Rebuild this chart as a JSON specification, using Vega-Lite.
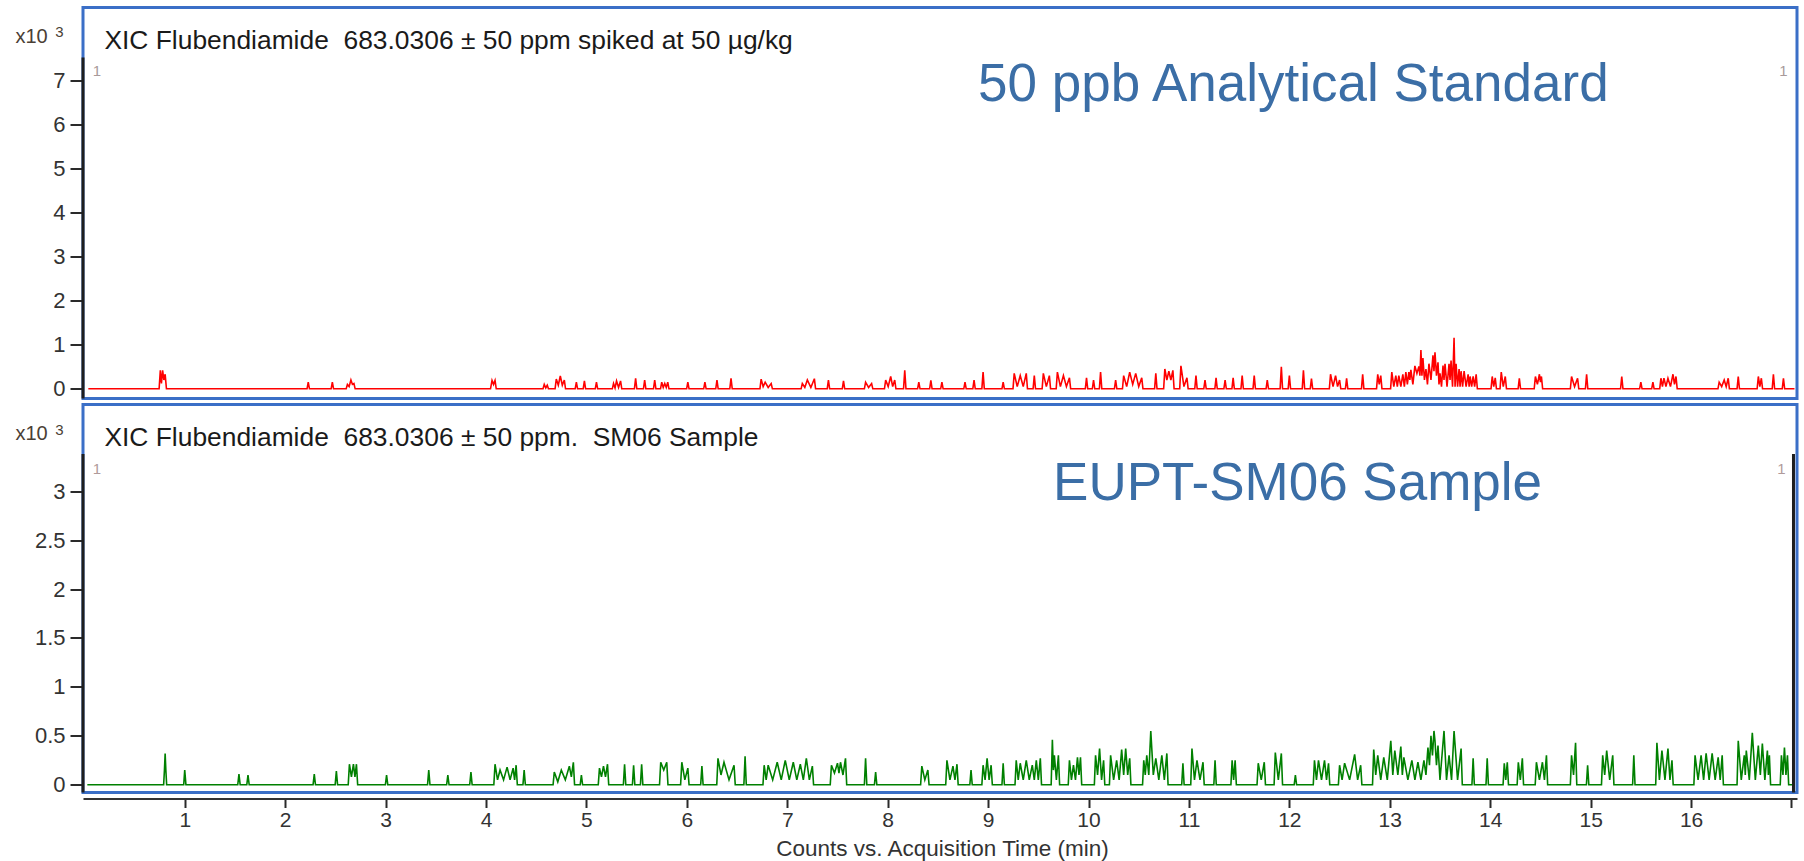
{
  "$schema": "https://vega.github.io/schema/vega-lite/v6.json",
  "background": "white",
  "padding": {"left": 13, "top": 5.5, "right": 5, "bottom": 0},
  "spacing": 6,
  "bounds": "flush",
  "config": {
    "view": {"stroke": "#3b6fc7", "strokeWidth": 3, "fill": "white"},
    "font": "Liberation Sans",
    "text": {"font": "Liberation Sans"}
  },
  "datasets": {
    "standard": [
      {"t":0.04,"v":0},
      {"t":0.745,"v":0},{"t":0.757,"v":0.42},{"t":0.768,"v":0.12},{"t":0.78,"v":0.42},{"t":0.792,"v":0.2},{"t":0.805,"v":0.33},{"t":0.818,"v":0},
      {"t":2.218,"v":0},{"t":2.23,"v":0.15},{"t":2.242,"v":0},
      {"t":2.458,"v":0},{"t":2.47,"v":0.15},{"t":2.482,"v":0},
      {"t":2.608,"v":0},{"t":2.62,"v":0.1},{"t":2.637,"v":0.05},{"t":2.655,"v":0.2},{"t":2.67,"v":0.1},{"t":2.685,"v":0.12},{"t":2.697,"v":0},
      {"t":4.045,"v":0},{"t":4.06,"v":0.19},{"t":4.075,"v":0.1},{"t":4.09,"v":0.19},{"t":4.102,"v":0},
      {"t":4.568,"v":0},{"t":4.58,"v":0.1},{"t":4.595,"v":0.02},{"t":4.61,"v":0.08},{"t":4.622,"v":0},
      {"t":4.688,"v":0},{"t":4.7,"v":0.22},{"t":4.72,"v":0.08},{"t":4.74,"v":0.29},{"t":4.76,"v":0.08},{"t":4.78,"v":0.2},{"t":4.792,"v":0},
      {"t":4.888,"v":0},{"t":4.9,"v":0.15},{"t":4.912,"v":0},
      {"t":4.968,"v":0},{"t":4.98,"v":0.18},{"t":4.992,"v":0},
      {"t":5.088,"v":0},{"t":5.1,"v":0.15},{"t":5.112,"v":0},
      {"t":5.258,"v":0},{"t":5.27,"v":0.12},{"t":5.285,"v":0.02},{"t":5.3,"v":0.18},{"t":5.32,"v":0.03},{"t":5.34,"v":0.18},{"t":5.352,"v":0},
      {"t":5.478,"v":0},{"t":5.49,"v":0.24},{"t":5.502,"v":0},
      {"t":5.568,"v":0},{"t":5.58,"v":0.2},{"t":5.592,"v":0},
      {"t":5.668,"v":0},{"t":5.68,"v":0.2},{"t":5.692,"v":0},
      {"t":5.738,"v":0},{"t":5.75,"v":0.15},{"t":5.765,"v":0.03},{"t":5.78,"v":0.12},{"t":5.795,"v":0.03},{"t":5.81,"v":0.15},{"t":5.822,"v":0},
      {"t":5.998,"v":0},{"t":6.01,"v":0.15},{"t":6.022,"v":0},
      {"t":6.168,"v":0},{"t":6.18,"v":0.15},{"t":6.192,"v":0},
      {"t":6.288,"v":0},{"t":6.3,"v":0.2},{"t":6.312,"v":0},
      {"t":6.428,"v":0},{"t":6.44,"v":0.24},{"t":6.452,"v":0},
      {"t":6.728,"v":0},{"t":6.74,"v":0.22},{"t":6.76,"v":0.05},{"t":6.78,"v":0.15},{"t":6.81,"v":0.03},{"t":6.84,"v":0.12},{"t":6.852,"v":0},
      {"t":7.138,"v":0},{"t":7.15,"v":0.12},{"t":7.175,"v":0.03},{"t":7.2,"v":0.2},{"t":7.235,"v":0.03},{"t":7.27,"v":0.23},{"t":7.282,"v":0},
      {"t":7.398,"v":0},{"t":7.41,"v":0.2},{"t":7.422,"v":0},
      {"t":7.548,"v":0},{"t":7.56,"v":0.18},{"t":7.572,"v":0},
      {"t":7.768,"v":0},{"t":7.78,"v":0.15},{"t":7.81,"v":0.03},{"t":7.84,"v":0.12},{"t":7.852,"v":0},
      {"t":7.968,"v":0},{"t":7.98,"v":0.2},{"t":8.005,"v":0.05},{"t":8.03,"v":0.28},{"t":8.05,"v":0.05},{"t":8.07,"v":0.2},{"t":8.082,"v":0},
      {"t":8.158,"v":0},{"t":8.17,"v":0.42},{"t":8.182,"v":0},
      {"t":8.298,"v":0},{"t":8.31,"v":0.15},{"t":8.322,"v":0},
      {"t":8.418,"v":0},{"t":8.43,"v":0.19},{"t":8.442,"v":0},
      {"t":8.528,"v":0},{"t":8.54,"v":0.15},{"t":8.552,"v":0},
      {"t":8.758,"v":0},{"t":8.77,"v":0.15},{"t":8.782,"v":0},
      {"t":8.848,"v":0},{"t":8.86,"v":0.2},{"t":8.872,"v":0},
      {"t":8.938,"v":0},{"t":8.95,"v":0.38},{"t":8.962,"v":0},
      {"t":9.138,"v":0},{"t":9.15,"v":0.15},{"t":9.162,"v":0},
      {"t":9.248,"v":0},{"t":9.26,"v":0.35},{"t":9.29,"v":0.05},{"t":9.32,"v":0.3},{"t":9.35,"v":0.05},{"t":9.38,"v":0.35},{"t":9.392,"v":0},
      {"t":9.448,"v":0},{"t":9.46,"v":0.3},{"t":9.472,"v":0},
      {"t":9.538,"v":0},{"t":9.55,"v":0.35},{"t":9.58,"v":0.05},{"t":9.61,"v":0.3},{"t":9.622,"v":0},
      {"t":9.678,"v":0},{"t":9.69,"v":0.38},{"t":9.72,"v":0.05},{"t":9.75,"v":0.3},{"t":9.78,"v":0.05},{"t":9.81,"v":0.25},{"t":9.822,"v":0},
      {"t":9.968,"v":0},{"t":9.98,"v":0.25},{"t":9.992,"v":0},
      {"t":10.038,"v":0},{"t":10.05,"v":0.2},{"t":10.062,"v":0},
      {"t":10.108,"v":0},{"t":10.12,"v":0.38},{"t":10.132,"v":0},
      {"t":10.258,"v":0},{"t":10.27,"v":0.2},{"t":10.282,"v":0},
      {"t":10.338,"v":0},{"t":10.35,"v":0.3},{"t":10.38,"v":0.05},{"t":10.41,"v":0.38},{"t":10.44,"v":0.1},{"t":10.47,"v":0.35},{"t":10.5,"v":0.05},{"t":10.53,"v":0.25},{"t":10.542,"v":0},
      {"t":10.658,"v":0},{"t":10.67,"v":0.35},{"t":10.682,"v":0},
      {"t":10.748,"v":0},{"t":10.76,"v":0.45},{"t":10.78,"v":0.2},{"t":10.8,"v":0.4},{"t":10.82,"v":0.2},{"t":10.84,"v":0.42},{"t":10.852,"v":0},
      {"t":10.908,"v":0},{"t":10.92,"v":0.52},{"t":10.95,"v":0.05},{"t":10.98,"v":0.25},{"t":10.992,"v":0},
      {"t":11.058,"v":0},{"t":11.07,"v":0.3},{"t":11.082,"v":0},
      {"t":11.148,"v":0},{"t":11.16,"v":0.2},{"t":11.172,"v":0},
      {"t":11.258,"v":0},{"t":11.27,"v":0.25},{"t":11.282,"v":0},
      {"t":11.348,"v":0},{"t":11.36,"v":0.2},{"t":11.372,"v":0},
      {"t":11.428,"v":0},{"t":11.44,"v":0.25},{"t":11.452,"v":0},
      {"t":11.518,"v":0},{"t":11.53,"v":0.3},{"t":11.542,"v":0},
      {"t":11.638,"v":0},{"t":11.65,"v":0.3},{"t":11.662,"v":0},
      {"t":11.768,"v":0},{"t":11.78,"v":0.2},{"t":11.792,"v":0},
      {"t":11.908,"v":0},{"t":11.92,"v":0.5},{"t":11.932,"v":0},
      {"t":11.988,"v":0},{"t":12.0,"v":0.3},{"t":12.012,"v":0},
      {"t":12.128,"v":0},{"t":12.14,"v":0.42},{"t":12.152,"v":0},
      {"t":12.208,"v":0},{"t":12.22,"v":0.23},{"t":12.232,"v":0},
      {"t":12.398,"v":0},{"t":12.41,"v":0.33},{"t":12.435,"v":0.05},{"t":12.46,"v":0.3},{"t":12.48,"v":0.05},{"t":12.5,"v":0.2},{"t":12.512,"v":0},
      {"t":12.558,"v":0},{"t":12.57,"v":0.24},{"t":12.582,"v":0},
      {"t":12.718,"v":0},{"t":12.73,"v":0.33},{"t":12.742,"v":0},
      {"t":12.868,"v":0},{"t":12.88,"v":0.33},{"t":12.895,"v":0.1},{"t":12.91,"v":0.3},{"t":12.922,"v":0},
      {"t":13.008,"v":0},{"t":13.02,"v":0.38},{"t":13.04,"v":0.05},{"t":13.06,"v":0.3},{"t":13.075,"v":0.05},{"t":13.09,"v":0.3},{"t":13.11,"v":0.05},{"t":13.13,"v":0.33},{"t":13.145,"v":0.05},{"t":13.16,"v":0.38},{"t":13.175,"v":0.1},{"t":13.19,"v":0.38},{"t":13.2,"v":0.2},{"t":13.21,"v":0.43},{"t":13.23,"v":0.1},{"t":13.25,"v":0.52},{"t":13.27,"v":0.35},{"t":13.29,"v":0.51},{"t":13.3,"v":0.3},{"t":13.31,"v":0.88},{"t":13.32,"v":0.3},{"t":13.33,"v":0.7},{"t":13.345,"v":0.2},{"t":13.36,"v":0.45},{"t":13.375,"v":0.1},{"t":13.39,"v":0.57},{"t":13.41,"v":0.2},{"t":13.43,"v":0.76},{"t":13.44,"v":0.4},{"t":13.45,"v":0.83},{"t":13.465,"v":0.3},{"t":13.48,"v":0.6},{"t":13.49,"v":0.1},{"t":13.5,"v":0.35},{"t":13.515,"v":0.05},{"t":13.53,"v":0.53},{"t":13.54,"v":0.2},{"t":13.55,"v":0.57},{"t":13.57,"v":0.05},{"t":13.59,"v":0.57},{"t":13.6,"v":0.2},{"t":13.61,"v":0.64},{"t":13.625,"v":0.05},{"t":13.64,"v":1.16},{"t":13.65,"v":0.05},{"t":13.66,"v":0.57},{"t":13.675,"v":0.05},{"t":13.69,"v":0.45},{"t":13.7,"v":0.05},{"t":13.71,"v":0.4},{"t":13.725,"v":0.05},{"t":13.74,"v":0.4},{"t":13.76,"v":0.05},{"t":13.78,"v":0.33},{"t":13.79,"v":0.05},{"t":13.8,"v":0.28},{"t":13.815,"v":0.05},{"t":13.83,"v":0.28},{"t":13.845,"v":0.05},{"t":13.86,"v":0.33},{"t":13.872,"v":0},
      {"t":14.008,"v":0},{"t":14.02,"v":0.28},{"t":14.035,"v":0.05},{"t":14.05,"v":0.25},{"t":14.062,"v":0},
      {"t":14.098,"v":0},{"t":14.11,"v":0.38},{"t":14.13,"v":0.05},{"t":14.15,"v":0.28},{"t":14.162,"v":0},
      {"t":14.278,"v":0},{"t":14.29,"v":0.24},{"t":14.302,"v":0},
      {"t":14.438,"v":0},{"t":14.45,"v":0.28},{"t":14.47,"v":0.1},{"t":14.49,"v":0.33},{"t":14.5,"v":0.15},{"t":14.51,"v":0.28},{"t":14.522,"v":0},
      {"t":14.798,"v":0},{"t":14.81,"v":0.28},{"t":14.84,"v":0.05},{"t":14.87,"v":0.24},{"t":14.882,"v":0},
      {"t":14.948,"v":0},{"t":14.96,"v":0.33},{"t":14.972,"v":0},
      {"t":15.298,"v":0},{"t":15.31,"v":0.28},{"t":15.322,"v":0},
      {"t":15.488,"v":0},{"t":15.5,"v":0.15},{"t":15.512,"v":0},
      {"t":15.608,"v":0},{"t":15.62,"v":0.15},{"t":15.632,"v":0},
      {"t":15.688,"v":0},{"t":15.7,"v":0.24},{"t":15.715,"v":0.05},{"t":15.73,"v":0.24},{"t":15.75,"v":0.05},{"t":15.77,"v":0.24},{"t":15.795,"v":0.05},{"t":15.82,"v":0.33},{"t":15.835,"v":0.1},{"t":15.85,"v":0.28},{"t":15.862,"v":0},
      {"t":16.268,"v":0},{"t":16.28,"v":0.15},{"t":16.305,"v":0.05},{"t":16.33,"v":0.2},{"t":16.35,"v":0.05},{"t":16.37,"v":0.24},{"t":16.382,"v":0},
      {"t":16.458,"v":0},{"t":16.47,"v":0.28},{"t":16.482,"v":0},
      {"t":16.658,"v":0},{"t":16.67,"v":0.28},{"t":16.685,"v":0.05},{"t":16.7,"v":0.24},{"t":16.712,"v":0},
      {"t":16.808,"v":0},{"t":16.82,"v":0.33},{"t":16.832,"v":0},
      {"t":16.908,"v":0},{"t":16.92,"v":0.24},{"t":16.932,"v":0},
      {"t":17.03,"v":0}
    ],
    "sample": [
      {"t":0.03,"v":0},
      {"t":0.79,"v":0},{"t":0.798,"v":0.15},{"t":0.805,"v":0.32},{"t":0.812,"v":0.15},{"t":0.82,"v":0},
      {"t":0.99,"v":0},{"t":1.0,"v":0.15},{"t":1.012,"v":0},
      {"t":1.528,"v":0},{"t":1.54,"v":0.11},{"t":1.552,"v":0},
      {"t":1.618,"v":0},{"t":1.63,"v":0.1},{"t":1.642,"v":0},
      {"t":2.278,"v":0},{"t":2.29,"v":0.11},{"t":2.302,"v":0},
      {"t":2.498,"v":0},{"t":2.51,"v":0.14},{"t":2.522,"v":0},
      {"t":2.628,"v":0},{"t":2.64,"v":0.21},{"t":2.66,"v":0.08},{"t":2.68,"v":0.21},{"t":2.695,"v":0.08},{"t":2.71,"v":0.21},{"t":2.722,"v":0},
      {"t":2.998,"v":0},{"t":3.01,"v":0.1},{"t":3.022,"v":0},
      {"t":3.418,"v":0},{"t":3.43,"v":0.15},{"t":3.442,"v":0},
      {"t":3.608,"v":0},{"t":3.62,"v":0.1},{"t":3.632,"v":0},
      {"t":3.838,"v":0},{"t":3.85,"v":0.13},{"t":3.862,"v":0},
      {"t":4.078,"v":0},{"t":4.09,"v":0.21},{"t":4.115,"v":0.05},{"t":4.14,"v":0.15},{"t":4.175,"v":0.05},{"t":4.21,"v":0.18},{"t":4.24,"v":0.05},{"t":4.27,"v":0.17},{"t":4.285,"v":0.05},{"t":4.3,"v":0.2},{"t":4.312,"v":0},
      {"t":4.368,"v":0},{"t":4.38,"v":0.15},{"t":4.392,"v":0},
      {"t":4.668,"v":0},{"t":4.68,"v":0.13},{"t":4.715,"v":0.03},{"t":4.75,"v":0.15},{"t":4.79,"v":0.05},{"t":4.83,"v":0.19},{"t":4.85,"v":0.08},{"t":4.87,"v":0.23},{"t":4.882,"v":0},
      {"t":4.938,"v":0},{"t":4.95,"v":0.1},{"t":4.962,"v":0},
      {"t":5.118,"v":0},{"t":5.13,"v":0.17},{"t":5.15,"v":0.08},{"t":5.17,"v":0.19},{"t":5.19,"v":0.08},{"t":5.21,"v":0.21},{"t":5.222,"v":0},
      {"t":5.368,"v":0},{"t":5.38,"v":0.21},{"t":5.392,"v":0},
      {"t":5.458,"v":0},{"t":5.47,"v":0.2},{"t":5.482,"v":0},
      {"t":5.538,"v":0},{"t":5.55,"v":0.21},{"t":5.562,"v":0},
      {"t":5.728,"v":0},{"t":5.74,"v":0.23},{"t":5.77,"v":0.15},{"t":5.8,"v":0.23},{"t":5.812,"v":0},
      {"t":5.938,"v":0},{"t":5.95,"v":0.23},{"t":5.98,"v":0.05},{"t":6.01,"v":0.17},{"t":6.022,"v":0},
      {"t":6.138,"v":0},{"t":6.15,"v":0.19},{"t":6.162,"v":0},
      {"t":6.298,"v":0},{"t":6.31,"v":0.27},{"t":6.34,"v":0.1},{"t":6.37,"v":0.23},{"t":6.42,"v":0.05},{"t":6.47,"v":0.2},{"t":6.482,"v":0},
      {"t":6.568,"v":0},{"t":6.58,"v":0.29},{"t":6.592,"v":0},
      {"t":6.758,"v":0},{"t":6.77,"v":0.2},{"t":6.79,"v":0.05},{"t":6.81,"v":0.2},{"t":6.855,"v":0.05},{"t":6.9,"v":0.23},{"t":6.94,"v":0.05},{"t":6.98,"v":0.25},{"t":7.02,"v":0.05},{"t":7.06,"v":0.23},{"t":7.095,"v":0.05},{"t":7.13,"v":0.21},{"t":7.16,"v":0.05},{"t":7.19,"v":0.27},{"t":7.22,"v":0.05},{"t":7.25,"v":0.19},{"t":7.262,"v":0},
      {"t":7.428,"v":0},{"t":7.44,"v":0.2},{"t":7.47,"v":0.12},{"t":7.5,"v":0.22},{"t":7.515,"v":0.12},{"t":7.53,"v":0.23},{"t":7.555,"v":0.1},{"t":7.58,"v":0.27},{"t":7.592,"v":0},
      {"t":7.768,"v":0},{"t":7.78,"v":0.27},{"t":7.792,"v":0},
      {"t":7.868,"v":0},{"t":7.88,"v":0.13},{"t":7.892,"v":0},
      {"t":8.328,"v":0},{"t":8.34,"v":0.19},{"t":8.37,"v":0.05},{"t":8.4,"v":0.15},{"t":8.412,"v":0},
      {"t":8.578,"v":0},{"t":8.59,"v":0.25},{"t":8.62,"v":0.05},{"t":8.65,"v":0.19},{"t":8.67,"v":0.05},{"t":8.69,"v":0.21},{"t":8.702,"v":0},
      {"t":8.818,"v":0},{"t":8.83,"v":0.15},{"t":8.842,"v":0},
      {"t":8.938,"v":0},{"t":8.95,"v":0.2},{"t":8.97,"v":0.05},{"t":8.99,"v":0.27},{"t":9.01,"v":0.05},{"t":9.03,"v":0.2},{"t":9.042,"v":0},
      {"t":9.138,"v":0},{"t":9.15,"v":0.22},{"t":9.162,"v":0},
      {"t":9.268,"v":0},{"t":9.28,"v":0.25},{"t":9.3,"v":0.05},{"t":9.32,"v":0.22},{"t":9.35,"v":0.05},{"t":9.38,"v":0.25},{"t":9.41,"v":0.05},{"t":9.44,"v":0.2},{"t":9.46,"v":0.05},{"t":9.48,"v":0.25},{"t":9.5,"v":0.05},{"t":9.52,"v":0.27},{"t":9.532,"v":0},
      {"t":9.628,"v":0},{"t":9.64,"v":0.46},{"t":9.65,"v":0.15},{"t":9.66,"v":0.3},{"t":9.68,"v":0.05},{"t":9.7,"v":0.3},{"t":9.712,"v":0},
      {"t":9.798,"v":0},{"t":9.81,"v":0.25},{"t":9.83,"v":0.05},{"t":9.85,"v":0.2},{"t":9.87,"v":0.05},{"t":9.89,"v":0.28},{"t":9.905,"v":0.1},{"t":9.92,"v":0.28},{"t":9.932,"v":0},
      {"t":10.058,"v":0},{"t":10.07,"v":0.3},{"t":10.09,"v":0.1},{"t":10.11,"v":0.37},{"t":10.13,"v":0.05},{"t":10.15,"v":0.25},{"t":10.162,"v":0},
      {"t":10.208,"v":0},{"t":10.22,"v":0.3},{"t":10.25,"v":0.05},{"t":10.28,"v":0.25},{"t":10.305,"v":0.05},{"t":10.33,"v":0.36},{"t":10.35,"v":0.1},{"t":10.37,"v":0.37},{"t":10.39,"v":0.1},{"t":10.41,"v":0.27},{"t":10.422,"v":0},
      {"t":10.538,"v":0},{"t":10.55,"v":0.25},{"t":10.565,"v":0.1},{"t":10.58,"v":0.3},{"t":10.6,"v":0.1},{"t":10.62,"v":0.55},{"t":10.645,"v":0.1},{"t":10.67,"v":0.27},{"t":10.7,"v":0.05},{"t":10.73,"v":0.3},{"t":10.755,"v":0.05},{"t":10.78,"v":0.32},{"t":10.792,"v":0},
      {"t":10.928,"v":0},{"t":10.94,"v":0.22},{"t":10.952,"v":0},
      {"t":11.018,"v":0},{"t":11.03,"v":0.37},{"t":11.055,"v":0.05},{"t":11.08,"v":0.25},{"t":11.11,"v":0.05},{"t":11.14,"v":0.23},{"t":11.152,"v":0},
      {"t":11.248,"v":0},{"t":11.26,"v":0.25},{"t":11.272,"v":0},
      {"t":11.418,"v":0},{"t":11.43,"v":0.25},{"t":11.445,"v":0.05},{"t":11.46,"v":0.25},{"t":11.472,"v":0},
      {"t":11.678,"v":0},{"t":11.69,"v":0.22},{"t":11.72,"v":0.05},{"t":11.75,"v":0.23},{"t":11.762,"v":0},
      {"t":11.848,"v":0},{"t":11.86,"v":0.33},{"t":11.89,"v":0.05},{"t":11.92,"v":0.32},{"t":11.932,"v":0},
      {"t":12.048,"v":0},{"t":12.06,"v":0.1},{"t":12.072,"v":0},
      {"t":12.238,"v":0},{"t":12.25,"v":0.25},{"t":12.27,"v":0.05},{"t":12.29,"v":0.25},{"t":12.32,"v":0.05},{"t":12.35,"v":0.25},{"t":12.37,"v":0.05},{"t":12.39,"v":0.22},{"t":12.402,"v":0},
      {"t":12.488,"v":0},{"t":12.5,"v":0.2},{"t":12.525,"v":0.05},{"t":12.55,"v":0.22},{"t":12.6,"v":0.05},{"t":12.65,"v":0.31},{"t":12.68,"v":0.05},{"t":12.71,"v":0.2},{"t":12.722,"v":0},
      {"t":12.828,"v":0},{"t":12.84,"v":0.36},{"t":12.86,"v":0.1},{"t":12.88,"v":0.3},{"t":12.91,"v":0.05},{"t":12.94,"v":0.28},{"t":12.975,"v":0.05},{"t":13.01,"v":0.45},{"t":13.03,"v":0.1},{"t":13.05,"v":0.35},{"t":13.08,"v":0.1},{"t":13.11,"v":0.39},{"t":13.125,"v":0.1},{"t":13.14,"v":0.28},{"t":13.18,"v":0.05},{"t":13.22,"v":0.25},{"t":13.25,"v":0.05},{"t":13.28,"v":0.23},{"t":13.31,"v":0.05},{"t":13.34,"v":0.25},{"t":13.36,"v":0.1},{"t":13.38,"v":0.38},{"t":13.395,"v":0.2},{"t":13.41,"v":0.5},{"t":13.425,"v":0.3},{"t":13.44,"v":0.55},{"t":13.45,"v":0.45},{"t":13.465,"v":0.2},{"t":13.48,"v":0.4},{"t":13.5,"v":0.05},{"t":13.54,"v":0.55},{"t":13.565,"v":0.05},{"t":13.59,"v":0.3},{"t":13.615,"v":0.05},{"t":13.64,"v":0.55},{"t":13.675,"v":0.05},{"t":13.71,"v":0.37},{"t":13.722,"v":0},
      {"t":13.818,"v":0},{"t":13.83,"v":0.27},{"t":13.842,"v":0},
      {"t":13.958,"v":0},{"t":13.97,"v":0.27},{"t":13.982,"v":0},
      {"t":14.128,"v":0},{"t":14.14,"v":0.22},{"t":14.155,"v":0.05},{"t":14.17,"v":0.23},{"t":14.182,"v":0},
      {"t":14.268,"v":0},{"t":14.28,"v":0.23},{"t":14.3,"v":0.05},{"t":14.32,"v":0.27},{"t":14.332,"v":0},
      {"t":14.448,"v":0},{"t":14.46,"v":0.23},{"t":14.49,"v":0.05},{"t":14.52,"v":0.23},{"t":14.54,"v":0.05},{"t":14.56,"v":0.3},{"t":14.572,"v":0},
      {"t":14.798,"v":0},{"t":14.81,"v":0.3},{"t":14.83,"v":0.1},{"t":14.85,"v":0.43},{"t":14.862,"v":0},
      {"t":14.958,"v":0},{"t":14.97,"v":0.2},{"t":14.982,"v":0},
      {"t":15.108,"v":0},{"t":15.12,"v":0.3},{"t":15.14,"v":0.1},{"t":15.16,"v":0.35},{"t":15.19,"v":0.05},{"t":15.22,"v":0.3},{"t":15.232,"v":0},
      {"t":15.418,"v":0},{"t":15.43,"v":0.3},{"t":15.442,"v":0},
      {"t":15.648,"v":0},{"t":15.66,"v":0.43},{"t":15.685,"v":0.05},{"t":15.71,"v":0.35},{"t":15.74,"v":0.05},{"t":15.77,"v":0.37},{"t":15.79,"v":0.05},{"t":15.81,"v":0.25},{"t":15.822,"v":0},
      {"t":16.028,"v":0},{"t":16.04,"v":0.3},{"t":16.07,"v":0.05},{"t":16.1,"v":0.3},{"t":16.125,"v":0.05},{"t":16.15,"v":0.32},{"t":16.18,"v":0.05},{"t":16.21,"v":0.32},{"t":16.24,"v":0.05},{"t":16.27,"v":0.28},{"t":16.29,"v":0.05},{"t":16.31,"v":0.3},{"t":16.322,"v":0},
      {"t":16.458,"v":0},{"t":16.47,"v":0.45},{"t":16.5,"v":0.05},{"t":16.53,"v":0.3},{"t":16.54,"v":0.1},{"t":16.55,"v":0.35},{"t":16.58,"v":0.05},{"t":16.61,"v":0.53},{"t":16.64,"v":0.05},{"t":16.67,"v":0.4},{"t":16.69,"v":0.1},{"t":16.71,"v":0.42},{"t":16.735,"v":0.05},{"t":16.76,"v":0.35},{"t":16.77,"v":0.1},{"t":16.78,"v":0.3},{"t":16.792,"v":0},
      {"t":16.888,"v":0},{"t":16.9,"v":0.3},{"t":16.915,"v":0.1},{"t":16.93,"v":0.38},{"t":16.945,"v":0.1},{"t":16.96,"v":0.3},{"t":16.972,"v":0},
      {"t":17.03,"v":0}
    ]
  },
  "vconcat": [
    {
      "width": 1714,
      "height": 391,
      "layer": [
        {
          "data": {"name": "standard"},
          "mark": {"type": "line", "color": "#ff0000", "strokeWidth": 1.6, "clip": true, "interpolate": "linear"},
          "encoding": {
            "x": {"field": "t", "type": "quantitative", "scale": {"domain": [-0.013, 17.055], "nice": false, "zero": false}, "axis": null},
            "y": {"field": "v", "type": "quantitative", "scale": {"domain": [-0.22, 8.658], "nice": false, "zero": false}, "title": "x10",
              "axis": {"values": [0, 1, 2, 3, 4, 5, 6, 7], "format": "~g", "domain": false, "grid": false, "tickSize": 13, "tickWidth": 2, "tickColor": "#2a2a2a", "labelFontSize": 22, "labelColor": "#333333", "labelPadding": 5, "labelFont": "Liberation Sans", "titleAngle": 0, "titleAlign": "left", "titleBaseline": "alphabetic", "titleX": -68, "titleY": 35, "titleFontSize": 20, "titleFontWeight": "normal", "titleColor": "#4a4035", "titleFont": "Liberation Sans"}}
          }
        },
        {
          "data": {"values": [{}]},
          "mark": {"type": "rule", "color": "#1e1e1e", "strokeWidth": 3},
          "encoding": {
            "x": {"datum": -0.013, "type": "quantitative", "axis": null},
            "y": {"datum": 7.52, "type": "quantitative"},
            "y2": {"datum": -0.22}
          }
        },
        {
          "data": {"values": [{"label": "3"}]},
          "mark": {"type": "text", "align": "left", "baseline": "alphabetic", "fontSize": 15, "color": "#4a4035"},
          "encoding": {
            "x": {"datum": -0.29, "type": "quantitative", "axis": null},
            "y": {"datum": 7.98, "type": "quantitative"},
            "text": {"field": "label"}
          }
        },
        {
          "data": {"values": [{"label": "XIC Flubendiamide \u00a0683.0306 ± 50 ppm spiked at 50 µg/kg"}]},
          "mark": {"type": "text", "align": "left", "baseline": "alphabetic", "fontSize": 26.4, "color": "#1a1a1a"},
          "encoding": {
            "x": {"datum": 0.2, "type": "quantitative", "axis": null},
            "y": {"datum": 7.72, "type": "quantitative"},
            "text": {"field": "label"}
          }
        },
        {
          "data": {"values": [{"label": "50 ppb Analytical Standard"}]},
          "mark": {"type": "text", "align": "left", "baseline": "alphabetic", "fontSize": 53, "color": "#3b6ea6"},
          "encoding": {
            "x": {"datum": 8.9, "type": "quantitative", "axis": null},
            "y": {"datum": 6.546, "type": "quantitative"},
            "text": {"field": "label"}
          }
        },
        {
          "data": {"values": [{"label": "1", "pos": 0.126}, {"label": "1", "pos": 16.92}]},
          "mark": {"type": "text", "align": "center", "baseline": "middle", "fontSize": 15, "color": "#a89a9a"},
          "encoding": {
            "x": {"field": "pos", "type": "quantitative", "axis": null},
            "y": {"datum": 7.22, "type": "quantitative"},
            "text": {"field": "label"}
          }
        }
      ]
    },
    {
      "width": 1714,
      "height": 388,
      "layer": [
        {
          "data": {"name": "sample"},
          "mark": {"type": "line", "color": "#008000", "strokeWidth": 1.6, "clip": true, "interpolate": "linear"},
          "encoding": {
            "x": {"field": "t", "type": "quantitative", "scale": {"domain": [-0.013, 17.055], "nice": false, "zero": false}, "title": "Counts vs. Acquisition Time (min)",
              "axis": {"values": [1, 2, 3, 4, 5, 6, 7, 8, 9, 10, 11, 12, 13, 14, 15, 16, 17], "format": "d", "labelExpr": "datum.value == 17 ? '' : datum.label", "offset": 6, "grid": false, "domainColor": "#333333", "domainWidth": 2, "tickColor": "#2a2a2a", "tickWidth": 2, "tickSize": 9, "labelFontSize": 21, "labelColor": "#333333", "labelPadding": 2, "labelFont": "Liberation Sans", "titleFontSize": 22.5, "titleFontWeight": "normal", "titleColor": "#333333", "titleFont": "Liberation Sans", "titleAlign": "center", "titleBaseline": "alphabetic", "titleX": 859, "titleY": 57}},
            "y": {"field": "v", "type": "quantitative", "scale": {"domain": [-0.079, 3.885], "nice": false, "zero": false}, "title": "x10",
              "axis": {"values": [0, 0.5, 1, 1.5, 2, 2.5, 3], "format": "~g", "domain": false, "grid": false, "tickSize": 13, "tickWidth": 2, "tickColor": "#2a2a2a", "labelFontSize": 22, "labelColor": "#333333", "labelPadding": 5, "labelFont": "Liberation Sans", "titleAngle": 0, "titleAlign": "left", "titleBaseline": "alphabetic", "titleX": -68, "titleY": 35, "titleFontSize": 20, "titleFontWeight": "normal", "titleColor": "#4a4035", "titleFont": "Liberation Sans"}}
          }
        },
        {
          "data": {"values": [{"pos": -0.013, "top": 3.38}, {"pos": 17.02, "top": 3.38}]},
          "mark": {"type": "rule", "color": "#1e1e1e", "strokeWidth": 3},
          "encoding": {
            "x": {"field": "pos", "type": "quantitative"},
            "y": {"field": "top", "type": "quantitative"},
            "y2": {"datum": -0.079}
          }
        },
        {
          "data": {"values": [{"label": "3"}]},
          "mark": {"type": "text", "align": "left", "baseline": "alphabetic", "fontSize": 15, "color": "#4a4035"},
          "encoding": {
            "x": {"datum": -0.29, "type": "quantitative"},
            "y": {"datum": 3.575, "type": "quantitative"},
            "text": {"field": "label"}
          }
        },
        {
          "data": {"values": [{"label": "XIC Flubendiamide \u00a0683.0306 ± 50 ppm. \u00a0SM06 Sample"}]},
          "mark": {"type": "text", "align": "left", "baseline": "alphabetic", "fontSize": 26.4, "color": "#1a1a1a"},
          "encoding": {
            "x": {"datum": 0.2, "type": "quantitative"},
            "y": {"datum": 3.459, "type": "quantitative"},
            "text": {"field": "label"}
          }
        },
        {
          "data": {"values": [{"label": "EUPT-SM06 Sample"}]},
          "mark": {"type": "text", "align": "left", "baseline": "alphabetic", "fontSize": 53, "color": "#3b6ea6"},
          "encoding": {
            "x": {"datum": 9.647, "type": "quantitative"},
            "y": {"datum": 2.914, "type": "quantitative"},
            "text": {"field": "label"}
          }
        },
        {
          "data": {"values": [{"label": "1", "pos": 0.126}, {"label": "1", "pos": 16.9}]},
          "mark": {"type": "text", "align": "center", "baseline": "middle", "fontSize": 15, "color": "#b09a9a"},
          "encoding": {
            "x": {"field": "pos", "type": "quantitative"},
            "y": {"datum": 3.23, "type": "quantitative"},
            "text": {"field": "label"}
          }
        }
      ]
    }
  ]
}
